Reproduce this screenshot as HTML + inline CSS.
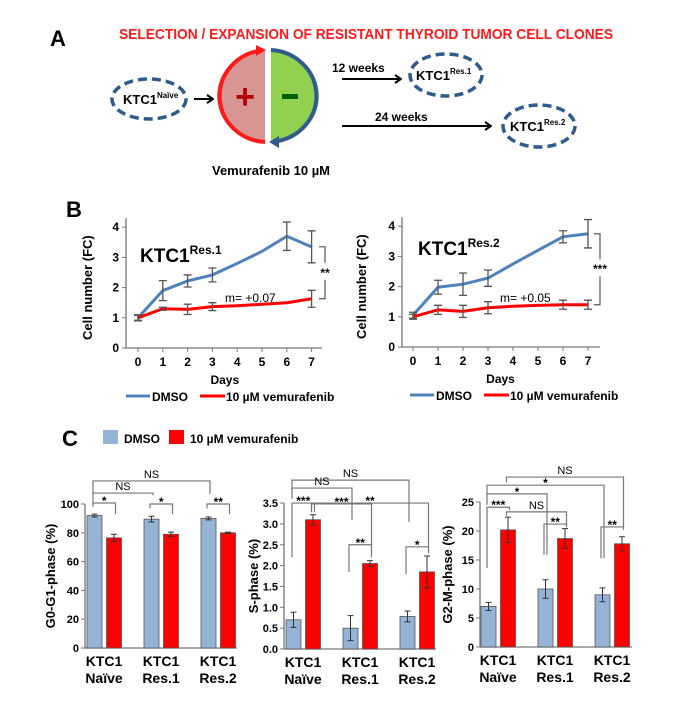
<!DOCTYPE html>
<html><head><meta charset="utf-8"><style>
html,body{margin:0;padding:0;background:#fff;}
svg{display:block;font-family:"Liberation Sans",Arial,sans-serif;}
</style></head><body>
<svg id="fig" width="700" height="708" viewBox="0 0 700 708" xmlns="http://www.w3.org/2000/svg">
<defs>
<marker id="ah" markerWidth="8" markerHeight="10" refX="7" refY="5" orient="auto" markerUnits="userSpaceOnUse"><path d="M1,1 L7,5 L1,9" fill="none" stroke="#000" stroke-width="2"/></marker>
</defs>
<!-- Panel A -->
<g>
<text x="50" y="46" font-size="22" font-weight="bold">A</text>
<text x="119" y="39" font-size="15" font-weight="bold" fill="#ff1a1a" textLength="494" lengthAdjust="spacingAndGlyphs">SELECTION / EXPANSION OF RESISTANT THYROID TUMOR CELL CLONES</text>
<ellipse cx="149" cy="99" rx="37" ry="20" fill="none" stroke="#2f5b8f" stroke-width="3.5" stroke-dasharray="9,5"/>
<text x="123" y="104" font-size="13" font-weight="bold">KTC1<tspan font-size="8" dy="-6">Naïve</tspan></text>
<line x1="194" y1="99" x2="213" y2="99" stroke="#000" stroke-width="2" marker-end="url(#ah)"/>
<path d="M265,50 A48,46 0 0 0 265,142 Z" fill="#d99594"/>
<path d="M271,50 A48,46 0 0 1 271,142 Z" fill="#92d050"/>
<path d="M265,142 A48,46 0 0 1 258,51" fill="none" stroke="#ff1a1a" stroke-width="4"/>
<path d="M256,45 L266,50 L256,56 Z" fill="#ff1a1a"/>
<path d="M271,50 A48,46 0 0 1 278,141" fill="none" stroke="#2f5b8f" stroke-width="4"/>
<path d="M279,136 L269,142 L279,148 Z" fill="#2f5b8f"/>
<text x="245" y="108" font-size="34" font-weight="bold" fill="#b00000" text-anchor="middle">+</text>
<rect x="282" y="94" width="16" height="5" fill="#006000"/>
<text x="271" y="175" font-size="13" font-weight="bold" text-anchor="middle">Vemurafenib 10 µM</text>
<text x="332" y="72" font-size="12" font-weight="bold">12 weeks</text>
<line x1="342" y1="79" x2="401" y2="79" stroke="#000" stroke-width="2" marker-end="url(#ah)"/>
<ellipse cx="446" cy="75" rx="36" ry="21" fill="none" stroke="#2f5b8f" stroke-width="3.5" stroke-dasharray="9,5"/>
<text x="416" y="80" font-size="13" font-weight="bold">KTC1<tspan font-size="8" dy="-6">Res.1</tspan></text>
<text x="375" y="121" font-size="12" font-weight="bold">24 weeks</text>
<line x1="342" y1="126" x2="491" y2="126" stroke="#000" stroke-width="2" marker-end="url(#ah)"/>
<ellipse cx="539" cy="126" rx="36" ry="21" fill="none" stroke="#2f5b8f" stroke-width="3.5" stroke-dasharray="9,5"/>
<text x="510" y="131" font-size="13" font-weight="bold">KTC1<tspan font-size="8" dy="-6">Res.2</tspan></text>
</g>
<text x="66" y="217" font-size="22" font-weight="bold">B</text>
<text x="62" y="446" font-size="22" font-weight="bold">C</text>
<rect x="103" y="430" width="15" height="14" fill="#95b3d7"/>
<text x="124" y="443" font-size="12" font-weight="bold">DMSO</text>
<rect x="169" y="430" width="15" height="14" fill="#ff0000"/>
<text x="190" y="443" font-size="12" font-weight="bold">10 µM vemurafenib</text>
<g id="charts"></g>
</svg>
<script>
// ---- Panel B data ----
const bDays = [0,1,2,3,4,5,6,7];
const bYTicks = [0,1,2,3,4];
const res1Dmso = [1.0,1.9,2.22,2.42,2.8,3.2,3.7,3.35];
const res1DmsoErr = [0.1,0.33,0.2,0.23,null,null,0.47,0.53];
const res1Vem = [1.0,1.3,1.28,1.37,1.4,1.45,1.5,1.63];
const res1VemErr = [0.08,0.05,0.17,0.13,null,null,null,0.28];
const res2Dmso = [1.05,1.98,2.08,2.28,2.75,3.2,3.65,3.75];
const res2DmsoErr = [0.1,0.23,0.37,0.27,null,null,0.2,0.47];
const res2Vem = [1.0,1.23,1.18,1.3,1.35,1.38,1.4,1.4];
const res2VemErr = [0.08,0.15,0.2,0.2,null,null,0.15,0.15];
// ---- Panel C data ----
const cGroups = [["KTC1","Naïve"],["KTC1","Res.1"],["KTC1","Res.2"]];
const g1Dmso = [92,89.5,90]; const g1DmsoErr=[1,2,1];
const g1Vem = [76.5,79,80]; const g1VemErr=[2.5,1.5,0.5];
const g1Ticks = [0,20,40,60,80,100];
const sDmso = [0.7,0.5,0.78]; const sDmsoErr=[0.18,0.3,0.13];
const sVem = [3.1,2.05,1.85]; const sVemErr=[0.12,0.07,0.38];
const sTicks = ["0.0","0.5","1.0","1.5","2.0","2.5","3.0","3.5"];
const g2Dmso = [7,10,9]; const g2DmsoErr=[0.7,1.6,1.2];
const g2Vem = [20.2,18.7,17.8]; const g2VemErr=[2.2,1.7,1.2];
const g2Ticks = [0,5,10,15,20,25];
// brackets: [barA, barB, topValue, legA, legB, label]; bar index = group*2 + (0 dmso,1 vem)
const g1Brackets = [[0,4,116,107,107,"NS"],[0,2,107.6,101,106,"NS"],[0,1,100.7,98,93,"*"],[2,3,100,97,93,"*"],[4,5,100,97,93,"**"]];
const sBrackets = [[0,4,4.05,3.8,3.05,"NS"],[0,2,3.86,3.6,3.1,"NS"],[0,1,3.5,2.2,3.28,"***"],[1,3,3.48,3.28,2.2,"***"],[1,5,3.5,3.28,2.3,"**"],[2,3,2.5,1.85,2.42,"**"],[4,5,2.45,1.8,2.37,"*"]];
const g2Brackets = [[1,5,29.3,28.4,20.7,"NS"],[0,4,27.9,26.2,15.3,"*"],[0,2,26.4,24.5,15.9,"*"],[0,1,24.1,13.6,23.6,"***"],[1,3,23.3,22.6,21,"NS"],[2,3,21.2,15.9,20.7,"**"],[4,5,20.7,15.3,20.2,"**"]];

const NS='http://www.w3.org/2000/svg';
const root=document.getElementById('charts');
function mk(tag,attrs,parent){const e=document.createElementNS(NS,tag);for(const k in attrs)e.setAttribute(k,attrs[k]);(parent||root).appendChild(e);return e;}
function txt(s,attrs,parent){const e=mk('text',attrs,parent);e.textContent=s;return e;}

function lineChart(o){
  const g=mk('g',{});
  
  
  const x=d=>o.x0+d*o.dx, y=v=>o.y0-v*o.dy;
  const ax=mk('path',{d:`M${o.ax},${y(4.3)} V${o.y0} H${o.axEnd}`,stroke:'#777',fill:'none','stroke-width':1.3},g);
   
  bYTicks.forEach(t=>{mk('line',{x1:o.ax-4,x2:o.ax,y1:y(t),y2:y(t),stroke:'#777'},g);
    const l=txt(String(t),{x:o.ax-7,y:y(t)+4,'font-size':12,'font-weight':'bold','text-anchor':'end'},g);
     });
  bDays.forEach((d,i)=>{mk('line',{x1:x(i),x2:x(i),y1:o.y0,y2:o.y0+4,stroke:'#777'},g);
    const l=txt(String(d),{x:x(i),y:o.y0+18,'font-size':12,'font-weight':'bold','text-anchor':'middle'},g);
     });
  [[o.dm,o.dmE,'#4f81bd','dmso-line'],[o.vm,o.vmE,'#ff0000','vemurafenib-line']].forEach(([v,e,c,n])=>{
    const p=mk('polyline',{points:v.map((vv,i)=>x(i)+','+y(vv)).join(' '),fill:'none',stroke:c,'stroke-width':3},g);
     
  });
  [[o.dm,o.dmE],[o.vm,o.vmE]].forEach(([v,e])=>{v.forEach((vv,i)=>{if(e[i]==null)return;
    const xx=x(i),a=y(vv+e[i]),b=y(vv-e[i]);
    const eb=mk('path',{d:`M${xx},${a}V${b}M${xx-4},${a}H${xx+4}M${xx-4},${b}H${xx+4}`,stroke:'#555','stroke-width':1.3,fill:'none'},g);
     });});
  // significance bracket
  const bx=o.sigX, ya=y(o.dm[7]), yb=y(o.vm[7]), ym=(ya+yb)/2;
  mk('path',{d:`M${bx-6},${ya}H${bx}V${ym-10}M${bx},${ym+7}V${yb}H${bx-6}`,stroke:'#555',fill:'none','stroke-width':1.2},g);
  const st=txt(o.sig,{x:bx,y:ym+4,'font-size':12,'font-weight':'bold','text-anchor':'middle'},g);
   
  const mt=txt(o.m,{x:o.mx,y:o.my,'font-size':12},g);
   
  const ti=mk('text',{x:o.tx,y:o.ty,'font-size':19,'font-weight':'bold'},g);
   
  ti.appendChild(document.createTextNode('KTC1'));
  const ts=mk('tspan',{'font-size':12,dy:-8},ti); ts.textContent=o.sup;
  const yt=txt('Cell number (FC)',{x:0,y:0,'font-size':13,'font-weight':'bold','text-anchor':'middle',transform:`translate(${o.ytx},${y(2)}) rotate(-90)`},g);
   
  const xt=txt('Days',{x:(x(0)+x(7))/2,y:o.y0+36,'font-size':12,'font-weight':'bold','text-anchor':'middle'},g);
   
  const ly=o.y0+48;
  const l1=mk('line',{x1:o.lx,x2:o.lx+24,y1:ly,y2:ly,stroke:'#4f81bd','stroke-width':3},g);
   
  const t1=txt('DMSO',{x:o.lx+26,y:ly+5,'font-size':12,'font-weight':'bold'},g);
   
  const l2=mk('line',{x1:o.lx+74,x2:o.lx+99,y1:ly,y2:ly,stroke:'#ff0000','stroke-width':3},g);
   
  const t2=txt('10 µM vemurafenib',{x:o.lx+100,y:ly+5,'font-size':12,'font-weight':'bold'},g);
   
}
lineChart({name:'chart-res1',ax:126,axEnd:322,x0:138,dx:24.8,y0:348,dy:30.2,dm:res1Dmso,dmE:res1DmsoErr,vm:res1Vem,vmE:res1VemErr,sigX:325,sig:'**',m:'m= +0.07',mx:225,my:302,tx:140,ty:262,sup:'Res.1',ytx:92,lx:126});
lineChart({name:'chart-res2',ax:402,axEnd:600,x0:413,dx:25,y0:347,dy:30.2,dm:res2Dmso,dmE:res2DmsoErr,vm:res2Vem,vmE:res2VemErr,sigX:600,sig:'***',m:'m= +0.05',mx:500,my:302,tx:418,ty:255,sup:'Res.2',ytx:366,lx:410});

function barChart(o){
  const g=mk('g',{});
  
  
  const y=v=>o.y0-v*o.scale;
  const ax=mk('path',{d:`M${o.ax},${y(o.max)} V${o.y0} H${o.ax+152}`,stroke:'#777',fill:'none','stroke-width':1.3},g);
   
  o.ticks.forEach(t=>{const v=parseFloat(t);mk('line',{x1:o.ax-4,x2:o.ax,y1:y(v),y2:y(v),stroke:'#777'},g);
    const l=txt(String(t),{x:o.ax-6,y:y(v)+4,'font-size':11,'font-weight':'bold','text-anchor':'end'},g);
     });
  const bx=i=>o.b0+Math.floor(i/2)*57+(i%2)*19.5;
  const vals=[],errs=[];
  o.dm.forEach((v,k)=>{vals.push(v,o.vm[k]);errs.push(o.dmE[k],o.vmE[k]);});
  vals.forEach((v,i)=>{
    const r=mk('rect',{x:bx(i),y:y(v),width:15,height:o.y0-y(v),fill:i%2?'#ff0000':'#95b3d7',stroke:'#555','stroke-width':0.8},g);
     
    const xx=bx(i)+7.5,a=y(v+errs[i]),b=y(v-errs[i]);
    const eb=mk('path',{d:`M${xx},${a}V${b}M${xx-3},${a}H${xx+3}M${xx-3},${b}H${xx+3}`,stroke:'#333','stroke-width':1,fill:'none'},g);
     
  });
  cGroups.forEach((gr,k)=>{const cx=o.b0+k*57+17;
    const l=txt(gr[0],{x:cx,y:o.y0+18,'font-size':14,'font-weight':'bold','text-anchor':'middle'},g);
     
    const l2=txt(gr[1],{x:cx,y:o.y0+35,'font-size':14,'font-weight':'bold','text-anchor':'middle'},g);
     });
  o.br.forEach(b=>{const xa=bx(b[0])+6,xb=bx(b[1])+9,yt=y(b[2]);
    const p=mk('path',{d:`M${xa},${y(b[3])}V${yt}H${xb}V${y(b[4])}`,stroke:'#777',fill:'none','stroke-width':1.2},g);
     
    const t=txt(b[5],{x:(xa+xb)/2,y:yt-(b[5]=='NS'?3:1)+(b[5]=='NS'?0:3),'font-size':b[5]=='NS'?11:12,'text-anchor':'middle','font-weight':b[5]=='NS'?'normal':'bold'},g);
     });
  const yt=txt(o.title,{x:0,y:0,'font-size':13,'font-weight':'bold','text-anchor':'middle',transform:`translate(${o.ytx},${(o.y0+y(o.max))/2}) rotate(-90)`},g);
   
}
barChart({name:'chart-g0g1',ax:85,y0:648,scale:1.44,max:100,ticks:g1Ticks,b0:87,dm:g1Dmso,dmE:g1DmsoErr,vm:g1Vem,vmE:g1VemErr,br:g1Brackets,title:'G0-G1-phase (%)',ytx:55});
barChart({name:'chart-s-phase',ax:284,y0:649,scale:41.7,max:3.5,ticks:sTicks,b0:286,dm:sDmso,dmE:sDmsoErr,vm:sVem,vmE:sVemErr,br:sBrackets,title:'S-phase (%)',ytx:258});
barChart({name:'chart-g2m',ax:480,y0:647,scale:5.8,max:25,ticks:g2Ticks,b0:481,dm:g2Dmso,dmE:g2DmsoErr,vm:g2Vem,vmE:g2VemErr,br:g2Brackets,title:'G2-M-phase (%)',ytx:452});
</script>
</body></html>
